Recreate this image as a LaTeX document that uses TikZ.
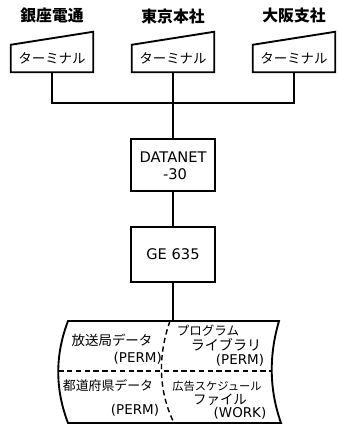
\documentclass[tikz,border=0pt]{standalone}
\usepackage{fontspec}
\newfontfamily\jpfont{Noto Sans CJK JP}
\newfontfamily\latfont{DejaVu Sans}
\usetikzlibrary{calc}

\begin{document}
\begin{tikzpicture}[
  x=0.03cm, y=0.03cm,
  font=\jpfont,
  wire/.style={line width=1.6pt,draw=black},
  place/.style={inner sep=0pt,font=\jpfont\bfseries\fontsize{13.5}{15}\selectfont},
  term/.style={rectangle,minimum width=2.46cm,minimum height=0.81cm,inner sep=0pt,
    font=\jpfont\fontsize{11.5}{13}\selectfont},
  unit/.style={rectangle,draw=black,line width=1.6pt,minimum width=2.52cm,
    font=\latfont\fontsize{12.5}{14}\selectfont},
  unittext/.style={inner sep=0pt,font=\latfont\fontsize{12.5}{14}\selectfont},
  cell/.style={inner sep=0pt,font=\jpfont\fontsize{11.5}{13}\selectfont},
  tag/.style={inner sep=0pt,font=\latfont\fontsize{11.5}{13}\selectfont},
  split/.style={line width=1.2pt,dash pattern=on 4.5pt off 3pt}
]
\useasboundingbox (0,0) rectangle (337,-425);
% terminals with their places
\foreach \n/\x/\where in {L/52/銀座電通,C/173/東京本社,R/294/大阪支社}{
  \node[place] (P\n) at (\x,-16) {\where};
  \node[term] (T\n) at (\x,-58.5) {ターミナル};
  \draw[wire] (T\n.south west) -- (T\n.south east) -- ($(T\n.north east)+(0,13)$)
    -- (T\n.north west) -- cycle;
}
% computers
\node[unit,minimum height=1.56cm] (DN) at (173,-165) {};
\node[unittext] (DNa) at (173,-157) {DATANET};
\node[unittext] (DNb) at (175,-174) {-30};
\node[unit,minimum height=1.65cm] (GE) at (173,-254.5) {GE 635};
% lines
\coordinate (bus) at (173,-103);
\coordinate (disk) at (173,-321);
\draw[wire] (TL.south) |- (bus) -| (TR.south);
\draw[wire] (TC.south) -- (DN.north);
\draw[wire] (DN.south) -- (GE.north);
\draw[wire] (GE.south) -- (disk);
% file store
\draw[wire] (68,-321) -- (279,-321) .. controls (269,-355) and (269,-389) .. (281,-423)
  -- (68,-423) .. controls (55,-389) and (55,-355) .. (68,-321) -- cycle;
\draw[split] (58.3,-371) -- (271.8,-371);
\draw[split] (170,-321) .. controls (158,-355) and (158,-390) .. (174,-423);
% files
\node[cell] (F1a) at (112,-340) {放送局データ};
\node[tag,anchor=east] (F1b) at (162,-358) {(PERM)};
\node[cell,font=\jpfont\fontsize{10.7}{12}\selectfont] (F2a) at (208,-331) {プログラム};
\node[cell,font=\jpfont\fontsize{12}{13}\selectfont] (F2b) at (226,-345) {ライブラリ};
\node[tag] (F2c) at (240,-360) {(PERM)};
\node[cell,font=\jpfont\fontsize{11}{12}\selectfont] (F3a) at (108,-386) {都道府県データ};
\node[tag] (F3b) at (135,-410) {(PERM)};
\node[cell,font=\jpfont\fontsize{9.6}{11}\selectfont] (F4a) at (217,-386) {広告スケジュール};
\node[cell] (F4b) at (220,-400) {ファイル};
\node[tag] (F4c) at (240,-413) {(WORK)};
\end{tikzpicture}
\end{document}
